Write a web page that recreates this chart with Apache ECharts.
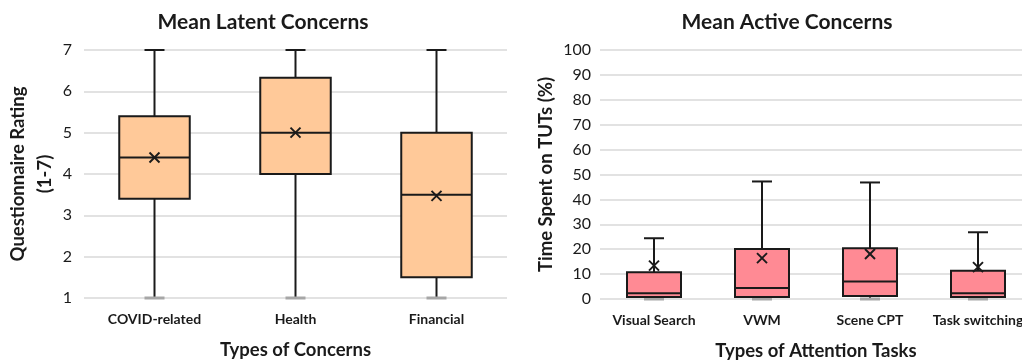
<!DOCTYPE html>
<html>
<head>
<meta charset="utf-8">
<script src="https://cdn.jsdelivr.net/npm/echarts@6/dist/echarts.min.js"></script>
<style>
  html, body { margin: 0; padding: 0; background: #ffffff; }
  #chart { width: 1022px; height: 363px; }
</style>
</head>
<body>
<div id="chart"></div>
<script>
// Latent concerns (questionnaire rating, 1-7)
const latentCats   = ['COVID-related', 'Health', 'Financial'];
const latentMin    = [1, 1, 1];
const latentQ1     = [3.4, 4.0, 1.5];
const latentMedian = [4.4, 5.0, 3.5];
const latentQ3     = [5.4, 6.33, 5.0];
const latentMax    = [7, 7, 7];
const latentMean   = [4.4, 5.0, 3.47];

// Active concerns (time spent on TUTs, %)
const activeCats   = ['Visual Search', 'VWM', 'Scene CPT', 'Task switching'];
const activeMin    = [0, 0, 0, 0];
const activeQ1     = [0.8, 0.8, 1.2, 0.8];
const activeMedian = [2.3, 4.4, 7.0, 2.3];
const activeQ3     = [10.7, 20.1, 20.4, 11.3];
const activeMax    = [24.4, 47.2, 46.8, 26.8];
const activeMean   = [13.4, 16.4, 18.1, 12.8];

const FONT = 'Lato, "Open Sans", sans-serif';
const INK = '#1a1a1a';
const GRID_LINE = '#d9d9d9';

function rows(cats, mn, q1, md, q3, mx, mean) {
  return cats.map((c, i) => [i, mn[i], q1[i], md[i], q3[i], mx[i], mean[i]]);
}

// Box with whiskers, grey lower cap, median bar and an "x" at the mean
function makeBoxRenderer(fill) {
  return function (params, api) {
    const x = api.value(0);
    const lo = api.coord([x, api.value(1)]);
    const q1 = api.coord([x, api.value(2)]);
    const md = api.coord([x, api.value(3)]);
    const q3 = api.coord([x, api.value(4)]);
    const hi = api.coord([x, api.value(5)]);
    const mean = api.coord([x, api.value(6)]);
    const cx = lo[0];
    const bw = api.size([1, 0])[0] * 0.5;
    const cap = 20;
    const m = 5;
    const stroke = { stroke: INK, lineWidth: 2 };
    return {
      type: 'group',
      children: [
        { type: 'line', shape: { x1: cx, y1: q3[1], x2: cx, y2: hi[1] }, style: stroke },
        { type: 'line', shape: { x1: cx, y1: q1[1], x2: cx, y2: lo[1] }, style: stroke },
        { type: 'line', shape: { x1: cx - cap / 2, y1: hi[1], x2: cx + cap / 2, y2: hi[1] }, style: stroke },
        { type: 'line', shape: { x1: cx - cap / 2, y1: lo[1], x2: cx + cap / 2, y2: lo[1] },
          style: { stroke: '#a6a6a6', lineWidth: 3 } },
        { type: 'rect', shape: { x: cx - bw / 2, y: q3[1], width: bw, height: q1[1] - q3[1] },
          style: { fill: fill, stroke: INK, lineWidth: 2 } },
        { type: 'line', shape: { x1: cx - bw / 2, y1: md[1], x2: cx + bw / 2, y2: md[1] }, style: stroke },
        { type: 'line', shape: { x1: cx - m, y1: mean[1] - m, x2: cx + m, y2: mean[1] + m }, style: stroke },
        { type: 'line', shape: { x1: cx - m, y1: mean[1] + m, x2: cx + m, y2: mean[1] - m }, style: stroke }
      ]
    };
  };
}

function xAxisOf(cats, gridIndex, name) {
  return {
    type: 'category', gridIndex: gridIndex, data: cats,
    name: name, nameLocation: 'middle', nameGap: 43,
    nameTextStyle: { fontFamily: FONT, fontSize: 18.5, fontWeight: 'bold', color: INK },
    axisLine: { show: false }, axisTick: { show: false },
    axisLabel: { interval: 0, margin: 14, fontFamily: FONT, fontSize: 14, fontWeight: 'bold', color: INK },
    splitLine: { show: false }
  };
}

function yAxisOf(gridIndex, min, max, interval, name, gap, labelMargin) {
  return {
    type: 'value', gridIndex: gridIndex, min: min, max: max, interval: interval,
    name: name, nameLocation: 'middle', nameGap: gap, nameRotate: 90,
    nameTextStyle: { fontFamily: FONT, fontSize: 18.5, fontWeight: 'bold', color: INK, lineHeight: 27 },
    axisLine: { show: false }, axisTick: { show: false },
    axisLabel: { margin: labelMargin, fontFamily: FONT, fontSize: 16, color: INK },
    splitLine: { lineStyle: { color: GRID_LINE, width: 1.5 } }
  };
}

const chart = echarts.init(document.getElementById('chart'), null, { renderer: 'canvas' });
chart.setOption({
  animation: false,
  backgroundColor: '#ffffff',
  title: [
    { text: 'Mean Latent Concerns', left: 258, top: 7, textAlign: 'center',
      textStyle: { fontFamily: FONT, fontSize: 21, fontWeight: 'bold', color: INK } },
    { text: 'Mean Active Concerns', left: 782, top: 7, textAlign: 'center',
      textStyle: { fontFamily: FONT, fontSize: 21, fontWeight: 'bold', color: INK } }
  ],
  grid: [
    { left: 84, top: 50, width: 423, height: 248, outerBoundsMode: 'none' },
    { left: 600, top: 50, width: 432, height: 249, outerBoundsMode: 'none' }
  ],
  xAxis: [
    xAxisOf(latentCats, 0, 'Types of Concerns'),
    xAxisOf(activeCats, 1, 'Types of Attention Tasks')
  ],
  yAxis: [
    yAxisOf(0, 1, 7, 1, 'Questionnaire Rating\n(1-7)', 20, 12),
    yAxisOf(1, 0, 100, 10, 'Time Spent on TUTs (%)', 39, 9)
  ],
  series: [
    { type: 'custom', xAxisIndex: 0, yAxisIndex: 0,
      renderItem: makeBoxRenderer('#ffc999'),
      encode: { x: 0, y: [1, 2, 3, 4, 5, 6] },
      data: rows(latentCats, latentMin, latentQ1, latentMedian, latentQ3, latentMax, latentMean) },
    { type: 'custom', xAxisIndex: 1, yAxisIndex: 1,
      renderItem: makeBoxRenderer('#ff8a94'),
      encode: { x: 0, y: [1, 2, 3, 4, 5, 6] },
      data: rows(activeCats, activeMin, activeQ1, activeMedian, activeQ3, activeMax, activeMean) }
  ]
});
</script>
</body>
</html>
